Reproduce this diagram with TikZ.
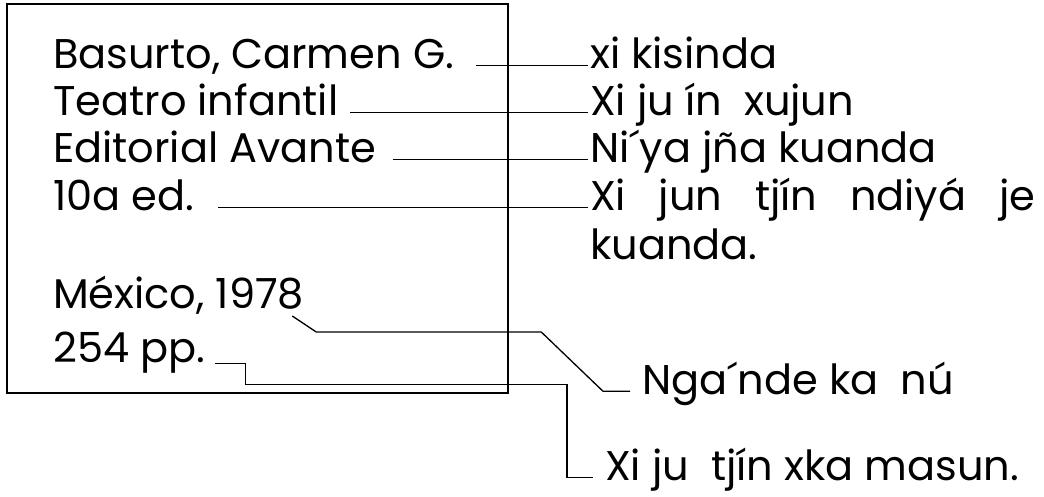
\documentclass[tikz,border=0pt]{standalone}
\usepackage{fontspec}
\setmainfont{Poppins}
\usetikzlibrary{positioning}
\hyphenpenalty=10000
\tolerance=10000

\begin{document}
\begin{tikzpicture}[x=1pt, y=-1pt,
	every node/.style={inner sep=0pt, font=\fontsize{41.5}{49}\selectfont},
	entry/.style={anchor=base west},
	note/.style={anchor=base west, text width=445pt, align=justify},
	link/.style={line width=1.3pt}]

	\useasboundingbox (0, 0) rectangle (1044, 496);

	% Catalogue card

	\draw [line width=2pt] (7, 4) rectangle (508, 393);

	% Card entries and their names

	\foreach \n/\y/\g/\l/\r in {author/68/22/{Basurto, Carmen G.}/{xi kisinda},
			title/115/12/{Teatro infantil}/{Xi ju ín~~xujun},
			press/162/17/{Editorial Avante}/{Ni´ya jña kuanda},
			edition/210/24/{10a ed.}/{Xi jun tjín ndiyá je kuanda.}}
	{
		\node [entry] (\n) at (53, \y) {\l};
		\node [note] (\n N) at (590, \y) {\r};
		\draw [link] ([xshift=\g pt]\n.mid east) -- ([xshift=-2pt]\n N.mid west);
	}

	% Place and pages

	\node [entry] (place) at (53, 308) {México, 1978};
	\node [entry] (pages) at (53, 362) {254 pp.};

	\node [entry] (placeN) at (642, 394) {Nga´nde ka~~nú};
	\node [entry] (pagesN) at (605, 480) {Xi ju~~tjín xka masun.};

	\draw [link] ([xshift=-12pt, yshift=-8pt]place.base east) -- ++(24, 16) -- ++(225, 0)
		-- ([xshift=-39pt]placeN.mid west) -- ([xshift=-12pt]placeN.mid west);

	\draw [link] ([xshift=10pt, yshift=-4pt]pages.mid east) -- ++(30, 0) -- ++(0, 21)
		-| ([xshift=-38pt]pagesN.mid west) -- ([xshift=-12pt]pagesN.mid west);

\end{tikzpicture}
\end{document}
